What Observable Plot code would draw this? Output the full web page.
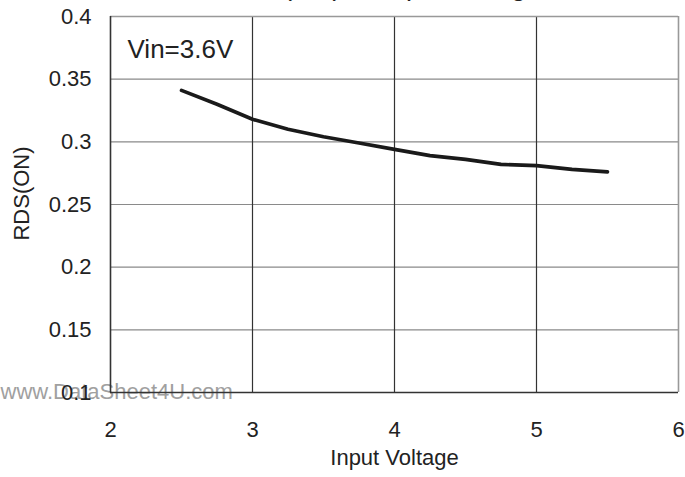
<!DOCTYPE html>
<html>
<head>
<meta charset="utf-8">
<script src="https://cdn.jsdelivr.net/npm/d3@7"></script>
<script src="https://cdn.jsdelivr.net/npm/@observablehq/plot@0.6"></script>
<style>
  html, body { margin: 0; padding: 0; background: #fff; overflow: hidden; }
  #chart svg { overflow: visible; display: block; }
</style>
</head>
<body>
<div id="chart"></div>
<script>
const voltage = [2.5, 2.75, 3.0, 3.25, 3.5, 3.75, 4.0, 4.25, 4.5, 4.75, 5.0, 5.25, 5.5];
const rdsOn   = [0.341, 0.330, 0.318, 0.310, 0.304, 0.299, 0.294, 0.289, 0.286, 0.282, 0.281, 0.278, 0.276];
const xTicks = [2, 3, 4, 5, 6];
const xTickLabels = ["2", "3", "4", "5", "6"];
const yTicks = [0.1, 0.15, 0.2, 0.25, 0.3, 0.35, 0.4];
const yTickLabels = ["0.1", "0.15", "0.2", "0.25", "0.3", "0.35", "0.4"];
const titleText = "RDS(ON) vs Input Voltage";
const annotation = "Vin=3.6V";
const xLabel = "Input Voltage";
const yLabel = "RDS(ON)";
const watermark = "www.DataSheet4U.com";

const data = voltage.map((v, i) => ({v, r: rdsOn[i]}));
const font = "'Liberation Sans', Arial, sans-serif";

const chart = Plot.plot({
  width: 685,
  height: 477,
  marginLeft: 110,
  marginRight: 7,
  marginTop: 16,
  marginBottom: 85,
  style: {fontFamily: font, fontSize: "22px", color: "#222", background: "#fff", overflow: "visible"},
  x: {domain: [2, 6]},
  y: {domain: [0.1, 0.4]},
  marks: [
    // watermark
    Plot.text([watermark], {frameAnchor: "bottom-left", text: d => d, textAnchor: "start", lineAnchor: "bottom", dx: -110, dy: 6, fill: "#a0a0a0", fontSize: 22}),
    // grid
    Plot.ruleY(yTicks.slice(1, -1), {stroke: "#8a8a8a", strokeWidth: 1.2}),
    Plot.ruleX(xTicks.slice(1, -1), {stroke: "#333", strokeWidth: 1.2}),
    // frame
    Plot.ruleY([0.4], {stroke: "#999", strokeWidth: 1.6}),
    Plot.ruleX([6], {stroke: "#999", strokeWidth: 1.6}),
    Plot.ruleY([0.1], {stroke: "#333", strokeWidth: 1.6}),
    Plot.ruleX([2], {stroke: "#333", strokeWidth: 1.6}),
    // axes
    Plot.axisX(xTicks, {tickSize: 0, tickPadding: 29, label: null, fontSize: 22, fill: "#222", tickFormat: (d, i) => xTickLabels[i]}),
    Plot.axisY(yTicks, {tickSize: 0, tickPadding: 19, label: null, fontSize: 22, fill: "#222", tickFormat: (d, i) => yTickLabels[i]}),
    // curve
    Plot.line(data, {x: "v", y: "r", stroke: "#1a1a1a", strokeWidth: 3.6}),
    // annotation
    Plot.text([annotation], {frameAnchor: "top-left", text: d => d, textAnchor: "start", lineAnchor: "bottom", dx: 17, dy: 41, fontSize: 26, fill: "#222"}),
    // axis labels
    Plot.text([xLabel], {frameAnchor: "bottom", text: d => d, textAnchor: "middle", lineAnchor: "bottom", dy: 72, fontSize: 22, fill: "#222"}),
    Plot.text([yLabel], {frameAnchor: "left", text: d => d, rotate: -90, textAnchor: "middle", lineAnchor: "middle", dx: -89, dy: -11, fontSize: 22, fill: "#222"}),
    // title (cut off at the top)
    Plot.text([titleText], {frameAnchor: "top", text: d => d, textAnchor: "middle", lineAnchor: "bottom", dx: -11, dy: -22, fontSize: 27, fill: "#222"})
  ]
});
document.getElementById("chart").appendChild(chart);
</script>
</body>
</html>
